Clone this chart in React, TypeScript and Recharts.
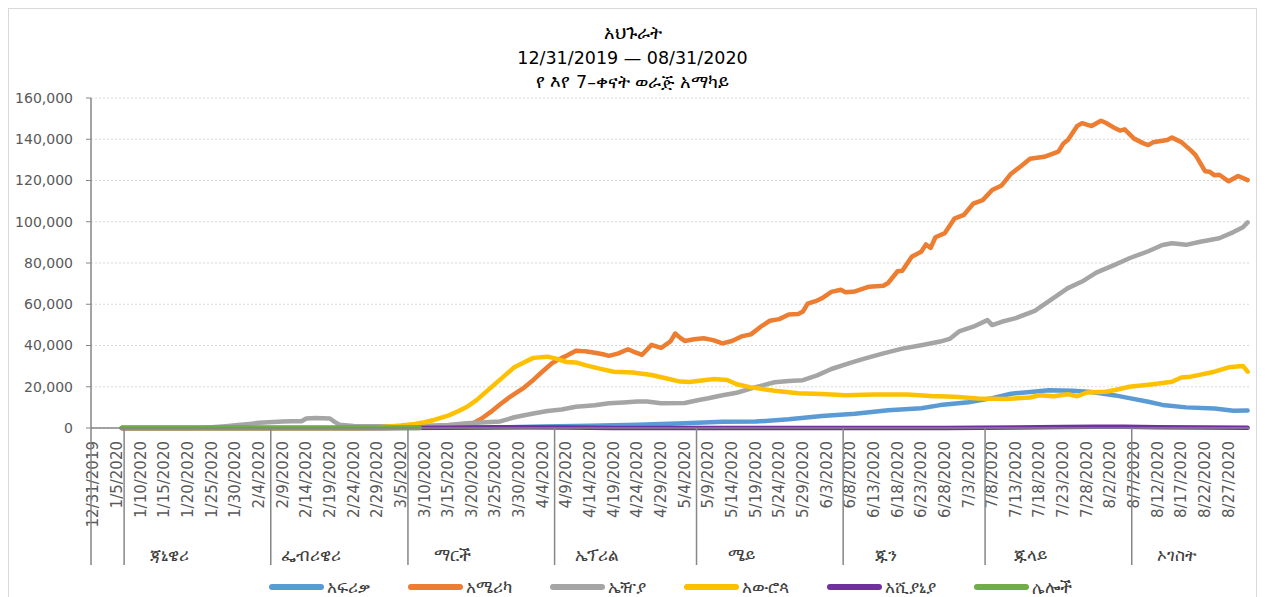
import React from "react";
import { CartesianGrid, Line, LineChart, XAxis, YAxis } from "recharts";

// day index 0 = 12/31/2019, values are 7-day rolling averages of new cases
const africa: [number, number][] = [
  [6, 0], [60, 0], [70, 100], [85, 300], [95, 700], [105, 1100], [115, 1600],
  [125, 2300], [133, 3000], [140, 3100], [147, 4200], [154, 5800], [161, 6900],
  [168, 8600], [175, 9600], [179, 11100], [185, 12500], [190, 14500], [194, 16600],
  [198, 17500], [202, 18300], [207, 18100], [211, 17500], [216, 15800], [219, 14500],
  [223, 12700], [226, 11200], [231, 10000], [237, 9500], [241, 8400], [244, 8500],
];

const america: [number, number][] = [
  [6, 0], [60, 0], [70, 200], [75, 600], [78, 1200], [80, 2000], [82, 4500],
  [84, 7800], [86, 11500], [88, 15000], [90, 18000], [91, 19500], [93, 23300],
  [95, 27500], [97, 31500], [99, 34000], [100, 35000], [102, 37500], [103, 37300],
  [104, 37200], [106, 36500], [108, 35600], [109, 35000], [111, 36200], [113, 38200],
  [114, 37200], [116, 35500], [118, 40300], [120, 38800], [122, 42000], [123, 45800],
  [124, 43800], [125, 42200], [127, 43000], [129, 43500], [131, 42600], [133, 41000],
  [135, 42200], [137, 44400], [139, 45400], [141, 49000], [143, 52000], [145, 52800],
  [147, 55000], [149, 55300], [150, 56500], [151, 60300], [153, 61800], [154, 62900],
  [156, 66000], [158, 67000], [159, 65800], [161, 66200], [164, 68500], [167, 69000],
  [168, 70300], [170, 76000], [171, 76200], [173, 83000], [175, 85500], [176, 89000],
  [177, 87300], [178, 92500], [180, 94500], [182, 101500], [184, 103300], [186, 108800],
  [188, 110500], [190, 115400], [192, 117600], [194, 123300], [196, 126800], [198, 130500],
  [201, 131500], [204, 134000], [205, 137800], [206, 139600], [208, 146500], [209, 147800],
  [211, 146400], [213, 149000], [214, 148000], [216, 145300], [217, 144200], [218, 144800],
  [220, 140300], [222, 138000], [223, 137200], [224, 138500], [227, 139600], [228, 140800],
  [230, 138600], [232, 134600], [233, 132300], [235, 124500], [236, 124200], [237, 122500],
  [238, 122800], [240, 119600], [242, 122200], [244, 120200],
];

const asia: [number, number][] = [
  [6, 0], [20, 50], [23, 150], [25, 400], [28, 900], [30, 1300], [33, 2000],
  [35, 2500], [38, 2900], [40, 3100], [42, 3300], [44, 3300], [45, 4600], [47, 4800],
  [50, 4600], [51, 3000], [52, 1600], [55, 1000], [60, 800], [65, 900], [70, 1100],
  [75, 1400], [79, 2300], [83, 2800], [86, 3200], [89, 5200], [93, 7000], [96, 8200],
  [99, 9000], [102, 10300], [106, 11000], [109, 12000], [112, 12400], [115, 12800],
  [117, 12800], [120, 12000], [125, 12100], [128, 13600], [130, 14400], [133, 15900],
  [136, 17100], [140, 19800], [144, 22200], [147, 22800], [150, 23200], [153, 25500],
  [156, 28600], [160, 31600], [163, 33600], [167, 36200], [171, 38500], [175, 40100],
  [179, 41900], [181, 43200], [183, 46800], [186, 49100], [189, 52300], [190, 49900],
  [192, 51500], [195, 53300], [199, 56800], [202, 61500], [206, 67800], [209, 71000],
  [212, 75300], [216, 79200], [219, 82300], [223, 85700], [226, 88700], [228, 89600],
  [231, 88800], [234, 90300], [238, 92000], [241, 95000], [243, 97300], [244, 99700],
];

const europe: [number, number][] = [
  [6, 0], [55, 0], [60, 300], [65, 1200], [68, 2000], [70, 2800], [72, 3900],
  [75, 6000], [77, 8000], [79, 10300], [81, 13500], [83, 17500], [85, 21500],
  [87, 25500], [89, 29500], [91, 31800], [93, 34000], [96, 34600], [98, 33500],
  [100, 32000], [102, 31800], [104, 30500], [107, 28800], [110, 27300], [114, 26900],
  [118, 25700], [121, 24100], [124, 22500], [126, 22300], [129, 23200], [131, 23700],
  [134, 23300], [136, 21200], [139, 19700], [144, 18100], [149, 16800], [154, 16500],
  [159, 15900], [165, 16300], [172, 16300], [177, 15500], [182, 15200], [187, 14300],
  [193, 14100], [198, 14800], [200, 15900], [203, 15400], [206, 16400], [208, 15400],
  [210, 17200], [214, 17600], [216, 18400], [219, 20000], [224, 21200], [228, 22400],
  [230, 24500], [232, 24900], [237, 27300], [240, 29400], [243, 30100], [244, 27300],
];

const oceania: [number, number][] = [
  [6, 0], [60, 0], [75, 100], [85, 350], [100, 200], [110, 50], [180, 50],
  [195, 200], [205, 450], [212, 600], [218, 550], [225, 350], [235, 200], [244, 150],
];

const others: [number, number][] = [
  [6, 0], [35, 20], [45, 60], [55, 30], [69, 0],
];

const seriesNames = ["አፍሪቃ", "አሜሪካ", "ኤዥያ", "አውሮጳ", "አሺያኒያ", "ሌሎች"];
const seriesColors = ["#5B9BD5", "#ED7D31", "#A5A5A5", "#FFC000", "#7030A0", "#70AD47"];
const seriesData = [africa, america, asia, europe, oceania, others];

const titleLines = ["አህጉራት", "12/31/2019 — 08/31/2020", "የ እየ 7–ቀናት ወራጅ አማካይ"];

const monthNames = ["ጃኒዌሪ", "ፌብሪዌሪ", "ማርች", "ኤፕሪል", "ሜይ", "ጁን", "ጁላይ", "ኦገስት"];
const monthCenters = [16, 46, 76, 106.5, 137, 167.5, 198, 229];
const monthSeparators = [-0.5, 6.5, 37.5, 66.5, 97.5, 127.5, 158.5, 188.5, 219.5];
const dateTicks = Array.from({ length: 49 }, (_, k) => k * 5);
const yTicks = [0, 20000, 40000, 60000, 80000, 100000, 120000, 140000, 160000];

const START = Date.UTC(2019, 11, 31);
const FONT = "'DejaVu Sans', 'Noto Sans', sans-serif";

function dayLabel(i: number) {
  const d = new Date(START + i * 86400000);
  return `${d.getUTCMonth() + 1}/${d.getUTCDate()}/${d.getUTCFullYear()}`;
}

function AxisTick(props: any) {
  const { x, y, payload } = props;
  const v = payload.value;
  if (monthSeparators.includes(v)) {
    return <line x1={x} y1={y} x2={x} y2={y + 137} stroke="#868686" strokeWidth={1.5} />;
  }
  const m = monthCenters.indexOf(v);
  if (m >= 0) {
    return (
      <text x={x} y={y + 127} textAnchor="middle" dominantBaseline="central"
        fontSize={17} fill="#404040" fontFamily={FONT}>
        {monthNames[m]}
      </text>
    );
  }
  return (
    <text x={x} y={y + 13} transform={`rotate(-90, ${x}, ${y + 13})`} textAnchor="end"
      dominantBaseline="central" fontSize={15} fill="#595959" fontFamily={FONT}>
      {dayLabel(v)}
    </text>
  );
}

export default function App() {
  const allTicks = [...dateTicks, ...monthSeparators, ...monthCenters];
  return (
    <div style={{ position: "relative", width: 1249, height: 600, border: "1px solid #d9d9d9", boxSizing: "border-box", background: "#fff", fontFamily: FONT }}>
      <div style={{ position: "absolute", left: 0, top: 12, width: "100%", textAlign: "center", fontSize: 17.5, lineHeight: "24.5px", color: "#000" }}>
        {titleLines.map((t) => (
          <div key={t}>{t}</div>
        ))}
      </div>
      <LineChart width={1247} height={598} margin={{ top: 89, right: 6, left: 0, bottom: 29 }}>
        <CartesianGrid vertical={false} stroke="#d9d9d9" strokeDasharray="2 2" />
        <XAxis type="number" dataKey="day" domain={[-0.5, 244.5]} ticks={allTicks} interval={0}
          tick={<AxisTick />} tickLine={false} tickSize={0} tickMargin={0} height={150}
          axisLine={{ stroke: "#868686", strokeWidth: 1.5 }} allowDataOverflow />
        <YAxis type="number" domain={[0, 160000]} ticks={yTicks} width={82} tickSize={5} tickMargin={13}
          tickLine={{ stroke: "#868686" }} axisLine={{ stroke: "#868686", strokeWidth: 1.5 }}
          tick={{ fontSize: 14, fill: "#595959", fontFamily: FONT }}
          tickFormatter={(v: number) => v.toLocaleString("en-US")} />
        {seriesData.map((pts, s) => (
          <Line key={seriesNames[s]} name={seriesNames[s]} type="linear"
            data={pts.map(([day, value]) => ({ day, value }))} dataKey="value"
            stroke={seriesColors[s]} strokeWidth={4.5} dot={false} activeDot={false}
            strokeLinecap="round" strokeLinejoin="round" isAnimationActive={false} />
        ))}
      </LineChart>
      <div style={{ position: "absolute", left: 82, width: 1159, top: 566, height: 24, display: "flex", justifyContent: "center", alignItems: "center", gap: 38, fontSize: 17, color: "#404040" }}>
        {seriesNames.map((n, s) => (
          <div key={n} style={{ display: "flex", alignItems: "center", gap: 3 }}>
            <div style={{ width: 55, height: 6, borderRadius: 3, background: seriesColors[s] }} />
            <span>{n}</span>
          </div>
        ))}
      </div>
    </div>
  );
}
